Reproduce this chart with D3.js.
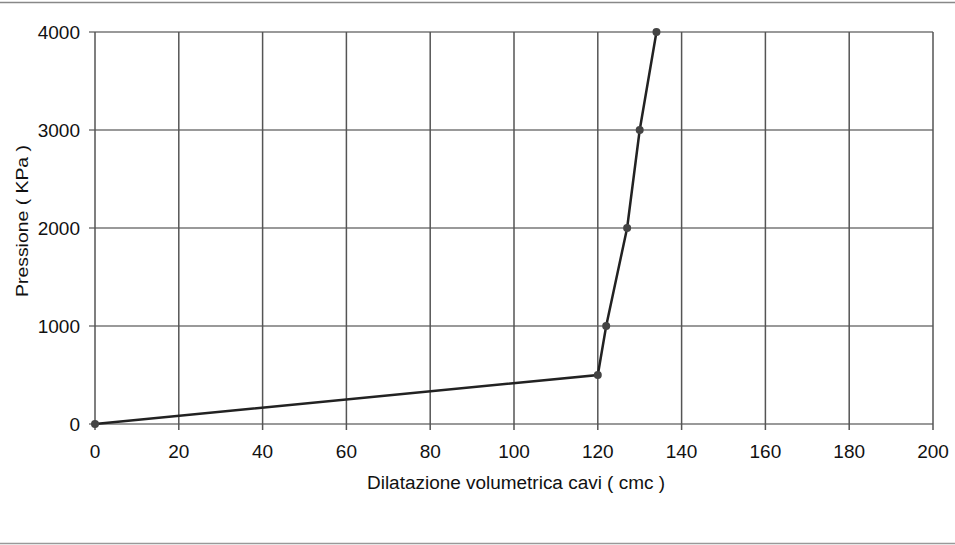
<!DOCTYPE html>
<html><head><meta charset="utf-8">
<script src="https://cdn.jsdelivr.net/npm/d3@7"></script>
<style>body{margin:0;background:#fff}svg{display:block}text{font-family:"Liberation Sans",Arial,sans-serif;fill:#111}</style>
</head><body>
<svg id="c" width="955" height="545"></svg>
<script>
const volume = [0, 120, 122, 127, 130, 134];
const pressure = [0, 500, 1000, 2000, 3000, 4000];
const xTicks = [0, 20, 40, 60, 80, 100, 120, 140, 160, 180, 200];
const yTicks = [0, 1000, 2000, 3000, 4000];
const xTitle = "Dilatazione volumetrica cavi ( cmc )";
const yTitle = "Pressione ( KPa )";

const svg = d3.select("#c");
const W = 955, H = 545;
const x = d3.scaleLinear().domain([0, 200]).range([95, 933]);
const y = d3.scaleLinear().domain([0, 4000]).range([424, 32]);

// page border lines
svg.append("line").attr("x1",0).attr("x2",W).attr("y1",2.5).attr("y2",2.5).attr("stroke","#888").attr("stroke-width",1.5);
svg.append("line").attr("x1",0).attr("x2",W).attr("y1",543.5).attr("y2",543.5).attr("stroke","#999").attr("stroke-width",1.5);

// horizontal grid
svg.append("g").selectAll("line").data(yTicks).join("line")
  .attr("x1", x(0)-6).attr("x2", x(200))
  .attr("y1", d=>y(d)).attr("y2", d=>y(d))
  .attr("stroke","#777").attr("stroke-width",1.5);
// vertical grid
svg.append("g").selectAll("line").data(xTicks).join("line")
  .attr("x1", d=>x(d)).attr("x2", d=>x(d))
  .attr("y1", y(4000)).attr("y2", y(0)+6)
  .attr("stroke","#555").attr("stroke-width",1.5);

// tick labels
svg.append("g").selectAll("text").data(yTicks).join("text")
  .attr("x", x(0)-15).attr("y", d=>y(d)).attr("dy","0.36em")
  .attr("text-anchor","end").attr("font-size",19).text(d=>d);
svg.append("g").selectAll("text").data(xTicks).join("text")
  .attr("x", d=>x(d)).attr("y", y(0)+34)
  .attr("text-anchor","middle").attr("font-size",19).text(d=>d);

// titles
svg.append("text").attr("x", 516).attr("y", 489).attr("text-anchor","middle").attr("font-size",18)
  .attr("textLength",298).attr("lengthAdjust","spacingAndGlyphs").text(xTitle);
svg.append("text").attr("transform","translate(28,221) rotate(-90)").attr("text-anchor","middle").attr("font-size",17)
  .attr("textLength",152).attr("lengthAdjust","spacingAndGlyphs").text(yTitle);

// line
const pts = volume.map((v,i)=>[v, pressure[i]]);
svg.append("path").datum(pts)
  .attr("d", d3.line().x(d=>x(d[0])).y(d=>y(d[1])))
  .attr("fill","none").attr("stroke","#222").attr("stroke-width",2.5);
svg.append("g").selectAll("circle").data(pts).join("circle")
  .attr("cx", d=>x(d[0])).attr("cy", d=>y(d[1])).attr("r",4)
  .attr("fill","#444");
</script>
</body></html>
